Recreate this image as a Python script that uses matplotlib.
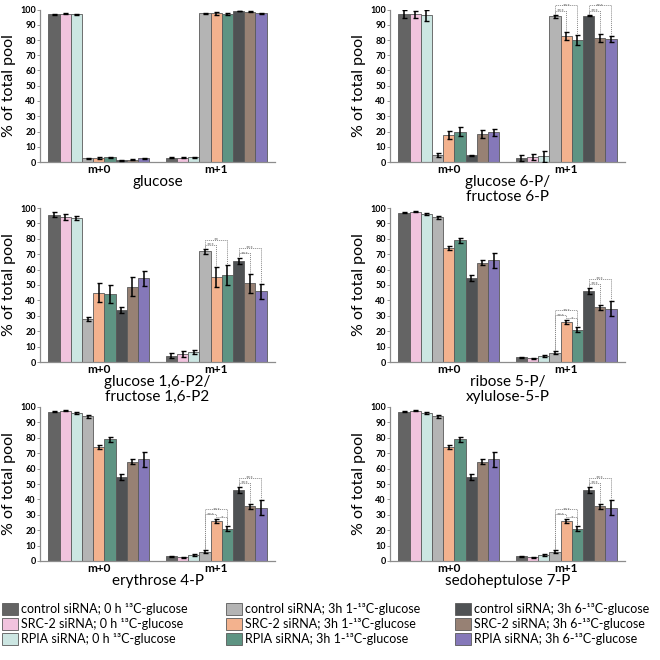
import numpy as np
import matplotlib
matplotlib.use('Agg')
import matplotlib.pyplot as plt
from matplotlib.patches import Patch

plt.rcParams['font.family'] = ['Lato', 'DejaVu Sans']

series = ['control siRNA; 0 h \u00b9\u00b3C-glucose',
          'SRC-2 siRNA; 0 h \u00b9\u00b3C-glucose',
          'RPIA siRNA; 0 h \u00b9\u00b3C-glucose',
          'control siRNA; 3h 1-\u00b9\u00b3C-glucose',
          'SRC-2 siRNA; 3h 1-\u00b9\u00b3C-glucose',
          'RPIA siRNA; 3h 1-\u00b9\u00b3C-glucose',
          'control siRNA; 3h 6-\u00b9\u00b3C-glucose',
          'SRC-2 siRNA; 3h 6-\u00b9\u00b3C-glucose',
          'RPIA siRNA; 3h 6-\u00b9\u00b3C-glucose']
colors = ['#646464', '#f1c3de', '#cce6e2', '#b4b4b4', '#f3b28e',
          '#5e9483', '#4f5254', '#978174', '#8578b9']
groups = ['m+0', 'm+1']

titles = ['glucose', 'glucose 6-P/\nfructose 6-P', 'glucose 1,6-P2/\nfructose 1,6-P2',
          'ribose 5-P/\nxylulose-5-P', 'erythrose 4-P', 'sedoheptulose 7-P']

# % of pool per series, m+0 and m+1, with error bars
glc_m0 = [97, 97.3, 97, 2.5, 2.5, 3, 1, 1.5, 2.5]
glc_m0_err = [0.3, 0.5, 0.3, 0.4, 0.8, 0.6, 0.3, 0.3, 0.3]
glc_m1 = [2.7, 2.7, 3, 97.5, 97.5, 97, 99, 98.6, 97.5]
glc_m1_err = [0.3, 0.4, 0.3, 0.4, 0.8, 0.6, 0.3, 0.3, 0.3]

g6p_m0 = [97, 96.8, 96.2, 4.5, 17.5, 20, 4.3, 18.3, 19.5]
g6p_m0_err = [2.5, 2.2, 3.5, 1.2, 2.7, 3.2, 0.5, 2.5, 2.3]
g6p_m1 = [2.5, 3, 3.7, 95.5, 82.5, 80, 96, 81.5, 80.5]
g6p_m1_err = [2, 2, 3.5, 1, 2.5, 3.2, 0.5, 2.5, 2]

fbp_m0 = [95.7, 94.3, 93.3, 28, 45, 44, 34, 49, 54.3]
fbp_m0_err = [1.8, 1.8, 1.3, 1.5, 6.2, 6, 2, 6, 5]
fbp_m1 = [4.2, 5.2, 6.5, 71.8, 55.2, 56.3, 65.8, 51, 45.8]
fbp_m1_err = [1.8, 2, 1.3, 1.5, 6.2, 6.5, 2, 6, 5]

r5p_m0 = [97, 97.5, 96, 94, 74, 79, 54.5, 64.5, 66]
r5p_m0_err = [0.4, 0.3, 0.8, 1, 1.5, 1.5, 2, 1.5, 4.8]
r5p_m1 = [3, 2.5, 4, 6, 26, 21, 46, 35.5, 34.5]
r5p_m1_err = [0.4, 0.3, 0.8, 1, 1.5, 1.5, 2, 1.5, 4.8]

means = [(glc_m0, glc_m1), (g6p_m0, g6p_m1), (fbp_m0, fbp_m1),
         (r5p_m0, r5p_m1), (r5p_m0, r5p_m1), (r5p_m0, r5p_m1)]
errs = [(glc_m0_err, glc_m1_err), (g6p_m0_err, g6p_m1_err), (fbp_m0_err, fbp_m1_err),
        (r5p_m0_err, r5p_m1_err), (r5p_m0_err, r5p_m1_err), (r5p_m0_err, r5p_m1_err)]

# significance brackets in m+1: (left bar, right bar, tier, label)
r5p_sig = [(3, 4, 0, '***'), (4, 5, -1, '*'), (3, 5, 1, '***'), (6, 7, 0, '***'), (6, 8, 1, '***')]
sig = [[],
       [(3, 4, 0, '***'), (3, 5, 1, '***'), (6, 7, 0, '***'), (6, 8, 1, '***')],
       [(3, 4, 0, '***'), (3, 5, 1, '**'), (6, 7, 0, '***'), (6, 8, 1, '***')],
       r5p_sig, r5p_sig, r5p_sig]

W, H = 660, 660
fig = plt.figure(figsize=(6.6, 6.6), dpi=100)

lefts = [40, 390]
rows = [(9.5, 162), (208, 362), (407, 561)]
bw = 0.0953

for k in range(6):
    col = k % 2
    top, bot = rows[k // 2]
    ax = fig.add_axes([lefts[col] / W, 1 - bot / H, 235 / W, (bot - top) / H])
    tops = {}
    for gi in range(2):
        vals = means[k][gi]
        ev = errs[k][gi]
        xs = gi + (np.arange(9) - 4) * bw
        ax.bar(xs, vals, width=bw, color=colors, edgecolor='#5a5a5a', linewidth=0.6, zorder=2)
        ax.errorbar(xs, vals, yerr=ev, fmt='none', ecolor='black', elinewidth=1.1,
                    capsize=1.8, capthick=1.0, zorder=3)
        tops[gi] = (xs, np.array(vals) + np.array(ev))
    xs, tp = tops[1]
    for i, j, tier, lab in sig[k]:
        y = tp[i:j + 1].max() + 2.8 + 3.4 * tier
        if tier < 0:
            y = tp[i:j + 1].max() + 1.0
        ax.plot([xs[i], xs[i], xs[j], xs[j]], [tp[i] + 0.8, y, y, tp[j] + 0.8],
                color='#8a8a8a', linestyle=(0, (1, 1)), linewidth=0.7, clip_on=False, zorder=4)
        ax.text((xs[i] + xs[j]) / 2, y - 1.0, lab, ha='center', va='baseline', fontsize=4.5,
                color='#505050', clip_on=False)

    ax.set_xlim(-0.5, 1.5)
    ax.set_ylim(0, 100)
    ax.set_yticks(np.arange(0, 101, 10))
    ax.set_xticks([0, 1])
    ax.set_xticklabels(groups, fontsize=8.5, fontweight='bold')
    ax.tick_params(axis='x', length=0, pad=1.5)
    ax.tick_params(axis='y', length=2, width=0.6, colors='#888888', labelcolor='black',
                   labelsize=6.5, pad=1)
    for t in ax.get_yticklabels():
        t.set_fontweight('bold')
    for s in ['top', 'right']:
        ax.spines[s].set_visible(False)
    for s in ['left', 'bottom']:
        ax.spines[s].set_color('#8c8c8c')
        ax.spines[s].set_linewidth(0.9)
    ax.set_ylabel('% of total pool', fontsize=11.5, labelpad=3)
    ax.set_xlabel(titles[k], fontsize=11, labelpad=0, linespacing=1.05)

handles = [Patch(facecolor=c, edgecolor='#5a5a5a', linewidth=0.6) for c in colors]
for c, x0 in enumerate([2, 226, 455]):
    fig.legend(handles[3 * c:3 * c + 3], series[3 * c:3 * c + 3], loc='upper left',
               bbox_to_anchor=(x0 / W, 1 - 603 / H), frameon=False, fontsize=9,
               handlelength=1.3, handleheight=1.05, handletextpad=0.25,
               labelspacing=0.25, borderpad=0, borderaxespad=0)

fig.savefig('out.png', dpi=100)
